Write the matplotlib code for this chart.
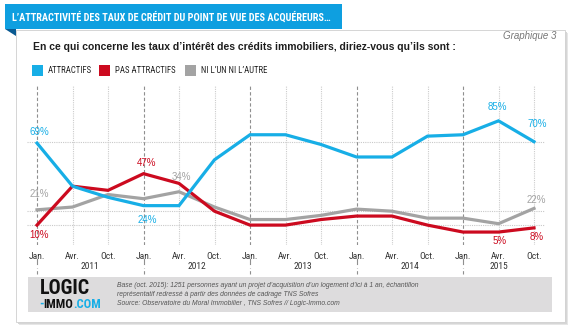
import matplotlib
matplotlib.use("Agg")
import matplotlib.pyplot as plt
from matplotlib.patches import Rectangle, Polygon

# data (Jan / Avr / Oct waves, 2011-2015)
months = ["Jan.", "Avr.", "Oct."] * 5
years = ["2011", "2012", "2013", "2014", "2015"]
attractifs = [69, 38, 30, 24, 24, 57, 75, 75, 68, 59, 59, 74, 75, 85, 70]
pas_attractifs = [10, 38, 35, 47, 40, 20, 10, 10, 14, 16.5, 16.5, 10, 5, 5, 8]
ni_l_un = [21, 23, 32, 29, 34, 23, 14, 14, 17, 21.5, 20, 15, 15, 11, 22]
series_names = ["ATTRACTIFS", "PAS ATTRACTIFS", "NI L\u2019UN NI L\u2019AUTRE"]
hgrid = [70, 20.5, 10]

BLUE = "#17aee6"
RED = "#cc0a1f"
GREY = "#a3a3a3"
NARROW = ["Roboto Condensed", "DejaVu Sans"]
SANS = ["Liberation Sans", "DejaVu Sans"]

W, H = 574, 331
fig = plt.figure(figsize=(W / 100, H / 100), dpi=100)
fig.patch.set_facecolor("white")

# decoration layer in pixel coords
deco = fig.add_axes([0, 0, 1, 1])
deco.set_xlim(0, W)
deco.set_ylim(H, 0)
deco.axis("off")

# card + shadow
deco.add_patch(Rectangle((19, 33), 549, 292, fc="#e6e6e6", ec="none"))
deco.add_patch(Rectangle((17.5, 31.5), 549, 292, fc="#d6d6d6", ec="none"))
deco.add_patch(Rectangle((16, 30), 549, 292, fc="white", ec="#cfcfcf", lw=0.6))

# title banner
deco.add_patch(Rectangle((5, 4), 337, 25, fc="#0e9fe0", ec="none"))
deco.add_patch(Polygon([(5, 29), (16, 29), (16, 36)], closed=True, fc="#0a5a92", ec="none"))
deco.text(12, 17, "L\u2019ATTRACTIVIT\u00c9 DES TAUX DE CR\u00c9DIT DU POINT DE VUE DES ACQU\u00c9REURS\u2026",
          color="white", fontsize=7.4, fontweight="bold", family=NARROW, va="center", ha="left")

deco.text(556, 36, "Graphique 3", color="#777777", fontsize=7, style="italic",
          family=SANS, ha="right", va="center")
deco.text(33, 47, "En ce qui concerne les taux d\u2019int\u00e9r\u00eat des cr\u00e9dits immobiliers, diriez-vous qu\u2019ils sont :",
          color="#1e1e1e", fontsize=7.45, fontweight="bold", family=SANS, ha="left", va="center")

# legend
leg_x = [32, 99, 185]
for x, name, col in zip(leg_x, series_names, [BLUE, RED, GREY]):
    deco.add_patch(Rectangle((x, 65), 11, 11, fc=col, ec="none"))
    deco.text(x + 16, 70.5, name, color="#222222", fontsize=6.3, family=NARROW, ha="left", va="center")

# footer
deco.add_patch(Rectangle((28, 277), 524, 35, fc="#dddcdd", ec="none"))
deco.text(40, 288, "LOGIC", color="#111111", fontsize=14.5, fontweight="bold", family=NARROW,
          ha="left", va="center")
d = deco.text(39, 304, "-", color=BLUE, fontsize=9, fontweight="bold", family=NARROW, ha="left", va="center")
t2 = deco.annotate("IMMO", xy=(1, 0.5), xycoords=d, color="#111111", fontsize=9, fontweight="bold",
                   family=NARROW, ha="left", va="center")
deco.annotate(".COM", xy=(1, 0.5), xycoords=t2, color=BLUE, fontsize=9, fontweight="bold",
              family=NARROW, ha="left", va="center")
src = ("Base (oct. 2015): 1251 personnes ayant un projet d\u2019acquisition d\u2019un logement d\u2019ici \u00e0 1 an, \u00e9chantillon\n"
       "repr\u00e9sentatif redress\u00e9 \u00e0 partir des donn\u00e9es de cadrage TNS Sofres\n"
       "Source: Observatoire du Moral Immobilier , TNS Sofres // Logic-Immo.com")
deco.text(117, 294.5, src, color="#555555", fontsize=4.9, style="italic", family=SANS,
          ha="left", va="center", linespacing=1.45)

# main chart
x0, x1, ytop, ybot = 27, 545, 86, 245
ax = fig.add_axes([x0 / W, 1 - ybot / H, (x1 - x0) / W, (ybot - ytop) / H])
ax.patch.set_alpha(0)
x = list(range(len(months)))
ax.set_xlim((x0 - 37) / 35.5, (x1 - 37) / 35.5)
ax.set_ylim((239 - ybot) / 1.39, (239 - ytop) / 1.39)
for s in ax.spines.values():
    s.set_visible(False)
ax.set_yticks([])
ax.set_xticks(x)
ax.set_xticklabels(months, family=NARROW, fontsize=6.8, color="#333333")
ax.tick_params(axis="x", length=0, pad=5)

for v in hgrid:
    ax.axhline(v, color="#c9c9c9", lw=0.8, ls=(0, (1, 1)), zorder=1)
for i, m in enumerate(months):
    if m == "Jan.":
        ax.axvline(i, color="#8f8f8f", lw=0.8, ls=(0, (3, 2)), zorder=1)
        ax.axvline(i, -0.12, -0.09, color="#8f8f8f", lw=0.8, clip_on=False)
        ax.axvline(i, -0.18, -0.145, color="#8f8f8f", lw=0.8, ls=(0, (3, 2)), clip_on=False)
    else:
        ax.axvline(i, color="#cccccc", lw=0.8, ls=(0, (1, 1)), zorder=1)

ax.plot(x, ni_l_un, color=GREY, lw=2.3, zorder=3, solid_joinstyle="miter")
ax.plot(x, pas_attractifs, color=RED, lw=2.3, zorder=4, solid_joinstyle="miter")
ax.plot(x, attractifs, color=BLUE, lw=2.3, zorder=5, solid_joinstyle="miter")

# year labels
for k, yr in enumerate(years):
    start = 3 * k
    end = min(start + 3, len(months) - 1)
    ax.text((start + end) / 2, -0.138, yr, transform=ax.get_xaxis_transform(),
            family=NARROW, fontsize=6.8, color="#333333", ha="center", va="center")

# value labels (index, series, colour, pixel offset)
labels = [
    (0, attractifs, BLUE, 2, 11), (0, pas_attractifs, RED, 2, -10), (0, ni_l_un, GREY, 2, 16),
    (3, pas_attractifs, RED, 3, 11), (3, attractifs, BLUE, 4, -14), (4, ni_l_un, GREY, 2, 15),
    (13, attractifs, BLUE, -1, 14), (14, attractifs, BLUE, 3, 18), (14, ni_l_un, GREY, 2, 8),
    (13, pas_attractifs, RED, 1, -9), (14, pas_attractifs, RED, 3, -9),
]
for i, ser, col, dx, dy in labels:
    ax.annotate(f"{ser[i]:.0f}%", xy=(i, ser[i]), xytext=(dx, dy), textcoords="offset pixels",
                color=col, fontsize=7, family=SANS, ha="center", va="center", zorder=6)

fig.savefig("out.png", dpi=100)
